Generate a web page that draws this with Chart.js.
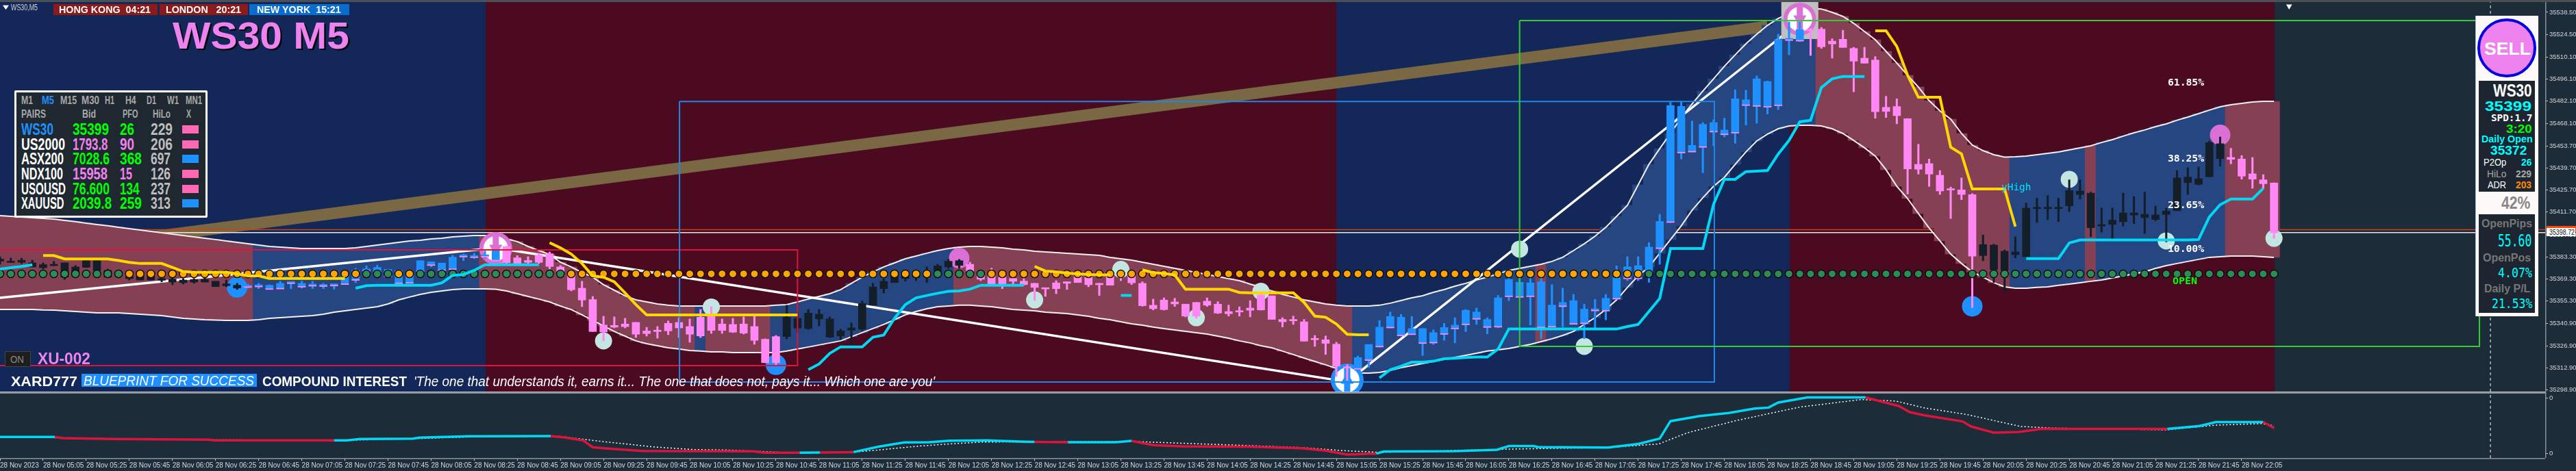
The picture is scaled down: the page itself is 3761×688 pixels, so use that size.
<!DOCTYPE html>
<html>
<head>
<meta charset="utf-8">
<title>WS30 M5</title>
<script src="https://cdn.jsdelivr.net/npm/chart.js@4/dist/chart.umd.min.js"></script>
<style>
html, body { margin: 0; padding: 0; background: #1c2c39; overflow: hidden; }
#wrap { position: relative; width: 3761px; height: 688px; overflow: hidden; }
#chart { position: absolute; left: 0; top: 0; }
.t { position: absolute; white-space: pre; transform-origin: left center; }
.box { position: absolute; box-sizing: border-box; }
</style>
</head>
<body>
<div id="wrap"><canvas id="chart" width="3761" height="688"></canvas></div>
<script>
// prices below are all written as price minus 35000
const BASE = 35000;

const bodyHi = [
381.9,380.2,381.2,379.5,378.4,378.3,379.5,376.9,380.9,380.9,
374.7,373.8,373.8,373.8,373.4,369.5,369.2,368.6,369,369,
367.8,366.2,365.3,364.9,365.2,365.3,366.5,367.5,366.5,365.7,
365.6,366.2,370.8,374.7,375.7,376.6,375.4,374.7,372.1,380.9,
380.2,379.4,383.1,384.6,384.1,384.6,387.3,389.9,382.7,381,
384.4,385.3,376.9,371.8,363.4,356.2,340,339.8,340.7,341.7,
336.3,336.8,341.1,341.7,339.1,345,345.7,340.7,340.4,340.7,
339.1,331,332.7,345,344.3,347.6,346.9,343.9,336.3,338.2,
353.7,364.2,367.8,371.7,372.5,372.2,373,377.6,380.5,380.9,
378.6,372.1,371.2,370.4,369.6,367.9,366.5,363.4,366.8,367.5,
371.2,370.4,366.5,371.1,373.4,371.8,366.5,352.6,355.9,354.7,
353.3,354.4,355.2,353.3,348.6,348.9,350.8,359.1,358.6,343.6,
343,342.1,331.3,330.7,327.9,313.3,319.4,327.7,338.7,345.5,
345,337.8,337.8,335.2,338.5,340,349.4,348.3,343.6,357.3,
368.9,367.2,366.8,367.5,352.7,354.4,355.5,350.1,350.1,357,
370,377,377.7,389.5,405.8,479.4,478.8,454.1,467.4,468.5,
463.8,483.6,483,496.3,494.6,521.2,521.5,527.5,527.5,527.8,
520.2,521.4,515.6,509.4,508.2,478.2,478.7,471,442,442.5,
435.1,426.1,425.8,422.8,391.1,390.8,386.9,386.4,414.2,414.5,
414.2,414.2,425.4,425,423.7,403.5,406.6,411.2,411.2,410.3,
409.9,412.4,433.4,433.9,432.9,455.8,455.1,446.4,445.4,436,432.2,430.2];

const bodyLo = [
380.6,379.7,379.9,376.9,376.4,377.7,370.4,371.2,376.6,374.7,
370.4,371.2,369.5,368.6,368.6,368.4,367.3,366.9,367.3,367.3,
364.4,365,363.5,364.4,364.7,363.1,363.4,366.8,364.6,365.2,
365,365.3,366.2,368.9,374.7,374,371.2,366.8,367,374.4,
378.3,375.1,375.7,383.7,383.3,383.7,381.2,379.5,379,379.8,
379.8,377.2,374,362.4,355.9,335.9,335.6,338.7,339,334.2,
334.6,335.9,336.3,338.2,334.2,333.1,336.6,336.6,335.5,334.9,
330.3,316.1,316.1,332.7,338.1,337.8,343.9,332.3,333.1,336.8,
337.4,352.7,363.1,367,369.6,370.4,370.8,374,376.9,377.9,
374.3,369.1,366,366,367.8,365.7,363.9,362.9,363.1,366.5,
367,365.6,365.6,365.3,370.8,366.8,352.3,350.4,349.8,353.4,
345.7,345.7,352.6,347.6,347.2,348.3,349.4,349.6,343.6,342.1,
342.7,329.8,330.7,328.4,313.9,312.7,312.5,318,326.6,338.7,
333.7,334.4,328.8,329.1,334.6,338.1,340.7,344.2,339,339.2,
358.5,358.1,358.5,338.8,339.2,352.2,341,341.4,349.5,349.4,
357,369.9,369.9,373.8,389,405.6,449.7,450.3,453.3,463,
461.3,462.3,479.8,479.3,478.8,479.7,521.1,520.7,526.8,516.6,
518.4,516.2,507.5,506.2,475.4,475.6,472.9,439.1,438.9,435.8,
425.1,425.7,422.9,383.7,384.1,375.1,374.7,384.7,383.4,413.9,
413.9,413.9,415.7,422.9,401.8,402.9,403.9,405.6,409.8,408.2,
407,410.2,412.6,430.4,429.3,434.1,445.6,445.2,434.5,432.6,429.7,398.6];

const highs = [
383.4,382.5,382.5,381.2,379.5,380.4,379.5,377.8,380.9,380.9,
375.5,373.8,373.8,373.8,373.4,370.4,369.9,369.6,369.6,370.4,
367.8,368.6,366.5,366,366.5,365.6,367.8,367.5,367.9,367.8,
366.5,366.2,370.8,376,377.6,378,375.4,375.1,373,380.9,
380.2,379.4,384.3,385.1,385.6,387,387.3,390,384.1,383.4,
385.6,386.4,377.8,373.4,367.8,358.2,345.6,345.2,344.3,341.7,
338.6,339.1,342.6,344.7,343.9,349.9,351.7,343.9,344.3,345.2,
345.6,331.3,333.4,352.6,347.8,349.9,349.9,345.2,337.4,341.4,
355.2,366.5,369.5,372.5,373.4,373.8,376.9,378.6,381.7,381.7,
379.9,372.5,376.1,373.4,373.4,369.6,366.5,363.4,368.2,367.5,
371.2,370.8,366.5,371.1,373.4,372.5,367.5,356.5,357.3,357,
353.3,354.4,357.3,354.9,352.7,351.6,355.5,359.9,358.6,344.7,
345.7,343.6,333.4,333.1,329.1,314.8,320.4,327.7,342.9,348.3,
346.8,345.5,337.8,337,341.1,344.7,349.9,350.8,344.7,358.8,
369.6,369.9,369.6,370.4,365.7,363.4,359.5,353.3,356.3,359.5,
377.6,383.4,383.4,392.3,410.3,481.6,481.6,469.5,468.5,470.3,
471.3,489.4,489.1,498.1,494.9,524.6,532.4,532.4,528.2,528.9,
521.7,527.1,516.3,516.3,510.4,485.2,483.6,471.1,454.8,445.4,
438.1,427.6,433.4,423.4,397.2,391.3,387.7,396,417.4,420.6,
422.1,420.6,432.2,432.2,424.4,414.2,414.2,423.7,421.5,424.4,
415.5,414.2,438.1,439.9,440.3,456.8,459.4,452.2,447.6,446.4,435.5,430.3];

const lows = [
378.6,379.7,379.1,376.9,375.6,377.7,369,371.2,376.6,374.7,
370.4,371.2,368.6,368.6,368.6,367.4,365.6,366,366.5,367.3,
364.4,364.3,362.6,363.4,363.1,363,363.1,363.1,363.4,363.1,
363.1,362.7,366.2,366.9,374.7,374,371.2,366.8,367,374.4,
376.9,375.1,375.7,380.9,382.2,382.2,381.2,379,379,379.1,
379.1,375.6,374,361.7,351.7,335.9,330,338.2,338.2,332.1,
333,331.7,333.9,332.1,329.1,332.1,334.7,334.7,335.2,334.3,
327.8,316.1,314.8,331.3,335.6,337.3,339.5,332.1,330.8,326.9,
336.5,352.6,360.4,367,367.9,368.2,367,373.4,376,376,
373.4,368.2,365.3,363.1,366,365.3,355.6,358.2,359.9,362.6,
367,364.3,358.8,365.3,368.2,365.7,352,349.6,349.5,351.8,
345.2,344.3,351.8,347.3,345.7,345.7,345.2,349.5,343.6,338.8,
340.4,329.8,326.5,321.4,307.4,304.8,311.7,313.2,326,338.2,
333.4,334.3,320.7,327.7,330.3,328.7,335.9,340.4,334.4,338.3,
355.5,357.3,340,331.3,338.8,338.9,340.7,331.3,337.5,343.3,
356.2,368.2,368.2,367.1,378.6,405.1,445.4,449.9,436.7,453.8,
459.4,455.4,466.9,468.1,473.9,476.8,511.5,519.9,511.1,515.6,
509.4,516.2,488,506.2,471.3,471.7,467.7,423.2,435.8,428,
422.9,407.6,419.6,351.1,380.8,366.9,360.4,382.7,383.4,405.1,
407,405.6,412.1,420,396.1,399,394.3,402.9,404.4,398.2,
406.3,392.8,412.5,422.9,429,434.1,440.9,442.3,432.6,426.8,426.8,395];

// d dark, b blue, p pink
const candleTones = 'd'.repeat(23) + 'b'.repeat(24) + 'p'.repeat(26) + 'd'.repeat(17) + 'p'.repeat(36)
    + 'b'.repeat(42) + 'p'.repeat(16) + 'd'.repeat(23) + 'p'.repeat(5);

const bandUpper = [
409.5,409,408.6,408.2,407.7,407.3,406.4,405.6,404.7,403.8,
403,402.1,401.2,400.3,399.5,398.6,397.7,396.9,396,395.1,
394.3,393.4,392.5,391.6,390.8,389.9,389.5,389,388.6,388.6,
388.6,388.6,388.6,389,389.9,390.8,391.6,392.5,393.4,393.8,
394.7,395.1,396,396.4,396.9,396.9,396,394.7,393,389.9,
387.3,384.8,379.9,376.9,373.4,370.4,365.6,362.1,358.6,356,
354.7,353.4,352.6,352.1,352.1,352.1,352.1,352.1,352.1,352.1,
352.1,352.1,352.6,353,354.7,356.5,358.2,359.9,362.5,366.5,
370.4,373.8,376.9,379.5,382.1,383.8,385.6,387.3,388.6,389.5,
389.9,389.9,389.5,389,388.2,387.7,386.9,386.4,386,385.6,
385.1,384.7,384.3,383,382.1,381.2,379.9,378.6,377.3,376,
374.7,373.4,372.1,370.8,369.5,368.2,366,363.9,361.7,359.5,
357.8,356,354.7,353.4,352.6,352.1,352.1,352.1,352.6,353.9,
355.6,357.3,358.6,360.8,362.5,364.7,366.5,368.6,370.4,372.5,
374.7,376,377.3,378.6,380.4,383,387.3,391.6,396.4,402.1,
409,416,429,442,452,461.6,471.6,480.3,488.5,496.3,
504.2,511.5,518.5,524.6,530.2,534.6,537.6,539.8,541.1,540.6,
538.5,535.9,531.5,526.3,521.1,513.7,506.3,498.5,491.1,482.4,
475.9,470.7,461.6,454.2,450.7,448.1,446.6,446.8,447.3,448.1,
449,449.9,451.2,452.5,453.8,455.9,457.7,459.9,462,463.8,
465.9,467.7,470,472,474.2,476.4,478.5,479.8,480.7,481.6,482,482];

const bandLower = [
349.9,349.9,349.9,349.9,349.6,349.5,349.1,348.6,348.2,347.8,
347.8,347.8,347.3,346.9,346.5,346,345.2,344.3,343.9,343.4,
343.2,343,343,343,343.4,344.3,344.7,345.2,345.6,346,
346.9,348.2,349.1,349.9,350.8,351.7,353.4,356,357.8,359.5,
360.8,361.7,362.5,363,363,363,362.7,361.7,359.9,358.2,
356.5,354.7,352.1,349.9,346.5,343,339.5,336,333,330,
328.2,326.9,325.6,324.8,323.9,323.5,323,323,322.6,322.6,
322.6,322.6,322.6,323.5,324.8,326.1,327.4,328.7,330,332.6,
335.2,337.8,340.4,343.4,346.5,348.6,350.4,351.7,352.1,352.6,
352.6,352.1,351.7,350.8,349.9,349.5,349.1,348.2,347.8,347.3,
346.5,345.6,344.3,343.4,342.1,340.8,339.9,338.7,337.8,336.9,
336,335.2,334.3,333,331.7,330,328.7,326.9,325.6,323.5,
321.3,319.1,316.9,314.8,312.6,310.9,309.5,309.5,310,311.3,
313,314.3,315.6,316.9,318.2,319.5,320.8,322.1,323.5,324.3,
325.2,326.5,327.8,329.5,331.3,333.4,336,340.4,344.7,349.9,
356,363.9,371.2,376.9,385.6,394.3,403,412.9,420.8,428.1,
433.8,442,449.9,456.8,461.2,464.6,466.4,466.8,466.8,466.4,
464.6,461.6,457.2,452.5,447.3,438.6,428.1,420.3,410.8,401.6,
393.4,385.1,379.1,373.8,370.4,366.9,364.3,363.4,363.4,363.9,
364.3,365.2,366,366.9,367.8,368.6,369.9,371.2,372.5,373.8,
376,377.7,379.1,380.4,381.7,383,383.4,383.8,383.8,383.8,383.4,383];

const bandTones = 'p'.repeat(24) + 'b'.repeat(21) + 'p'.repeat(20) + 'b' + 'p'.repeat(6) + 'b'.repeat(17)
    + 'p'.repeat(37) + 'b'.repeat(17) + 'p' + 'b'.repeat(25) + 'p'.repeat(18) + 'b'.repeat(7) + 'p'
    + 'b'.repeat(12) + 'p'.repeat(5);

// daily open dots along the bottom of the candles
const dailyOpen = 372.5;
const dotTones = 'g'.repeat(12) + 'o'.repeat(22) + 'g'.repeat(3) + 'o'.repeat(2) + 'g'.repeat(14)
    + 'o'.repeat(34) + 'g'.repeat(5) + 'o'.repeat(61) + 'g'.repeat(59);

// stop lines: [first bar, values]
const goldSegments = [
    [4, [384.1,384.1,382,382,382,382,382,381,379.8,379.1,379.1,379.1,376.6,374,373.5,373.5,373.5,373.5,372.5,371.2,371.2,369.6,369.6,369.6,369.6,369.6,369.6,369.6,369.6]],
    [51, [392.3,389,385.1,379.1,371.2,370.4,367.5,360.4,353,346.5,346.5,346.5,346.5,346.5,346.5,346.5,346.5,346.5,346.5,346.5,346.5,346.5,346.5,346.5]],
    [96, [377.3,374.3,373.8,373,372.5,372.1,371.9,371.9]],
    [106, [375,373.3,372.8,371.8,362.8,362.8,362.8,362.8,362.8,360.7,360.5,360.5,360.5,360.5,360.5,354.4,345.7,345,340.7,334.2,333.9,333.9]],
    [174, [526.8,526.8,516.8,498.5,484.6,484.6,484.6,452.9,448.6,426.4,426.4,426.4,426.4,402.5]]
];
const cyanSegments = [
    [0, [375.6,376.4,377.2,378.3]],
    [33, [363.4,365,365.3,365.3,365.3,365.3,365.3,365.3,366.8,371.5,372.1,374.7,378.3,378.3,378.3,378.3,378.3,378.3]],
    [75, [311.7,315.3,322.1,326.2,326.2,326.2,332.3,333.7,344.3,353,357.3,358.8,360.2,361.4,361.7,362.8,365.3,365.3,365.3,365.3,365.3]],
    [104, [358.8,358.8]],
    [128, [306.5,311.7,313.9,316.5,316.5,317.1,318.7,319,319.4,319.7,319.7,324.8,337.5,337.5,337.5,337.5,337.5,337.5,337.5,337.5,337.5,337.5,337.5,339.1,340.4,348.6,356.9,388.6,388.6,388.6,388.6,416.8,432.5,432.5,437.4,437.7,438.1,448.6,457.2,469,470,490.7,496.3,497.8,497.8,497.8]],
    [188, [382.2,382.2,382.2,382.2,392.1,394,394,394,394,394,394,394,394,394,394,394,394.3,408.6,416.4,420,420,420,426.8]]
];

const zigzagBars = [0, 46, 125, 167];
const zigzagPrices = [357.3, 389, 304, 532.4];
const goldTrendBars = [0, 164];
const goldTrendPrices = [383.4, 529.5];

const lastPrice = 398.72;
const askPrice = 400.5;

// boxes: [left bar, right bar, top price, bottom price]
const redBox = [-3, 74, 387.7, 314.3];
const blueBox = [63.05, 159.07, 481.9, 303.9];
const greenBox = [141, 230.06, 533.3, 326.5];

const lightBars = [56, 66, 96, 104, 111, 117, 141, 147, 192, 201, 211];
const lightPrices = [330, 351.5, 356, 375.3, 344.7, 361.4, 388.2, 326.5, 432.5, 393.4, 395.1];
const blueDotBars = [22, 72, 183];
const blueDotPrices = [363.9, 314.8, 351.9];
const orchidBars = [89, 206];
const orchidPrices = [382.5, 460.7];
const sellBars = [46, 167];
const sellPrices = [388.6, 534.1];
const buyBars = [125];
const buyPrices = [305.2];

// session colours: bar where each one ends
const sessionEdges = [-1, 45.06, 124.02, 166.06, 211.06];
const sessionColors = ['#132858', '#4b0a20', '#132858', '#4b0a20'];

// lower indicator, read at its turning points
const oscBars = [0,5.1,5.8,10.6,19.4,19.8,31,32.2,33.4,38.3,38.9,43.5,51.1,52.3,54.1,55,56.2,59.6,69.9,70.9,74.2,76.1,79.2,81.5,83.9,86.2,88.1,91.6,94.6,96,99.1,103.5,105,107,109.7,115.9,120.8,123,125,127.7,128.4,135,138.9,140,142.3,142.7,149.2,152,154,155,157.7,160.4,162.8,164.1,165,167.7,173.1,176.2,177.2,178.6,182.1,182.9,185,187.3,189.4,193.8,201.1,204.1,205.6,210,211];
const oscValues = [30.7,30.7,29,27.7,26.7,25.7,25.7,25.7,27.7,28.3,29.7,31.7,32,30.3,25.7,15.7,14,10.3,9.7,7.8,7.8,8,8.6,16.5,22.7,23,25.3,25.7,24,23.5,23,23,25,18.7,17,16.5,14.3,10.8,5.1,6.4,9.5,10,12.1,17.4,17.4,16.1,15.2,20.5,28.4,53.8,61.3,65.7,72.2,73.6,81,88.5,88.5,75.8,67,62.2,53.4,46,37.1,38,42.4,42.4,42.4,46.8,52.5,52.5,43.7];
const oscRedRanges = [[5,31],[51,74],[76,79],[96,99],[105,128],[173,192],[193,201],[210,212]];
const signalBars = [0,14,31,38,44,51.7,55.9,60.8,64.4,67.5,72.4,79,81.5,85.2,88.2,91.2,105.4,114.3,120.8,124.6,128,140,149.2,153.9,156.6,161.2,167,172.7,175.9,178.6,182.5,187.5,190.6,201,205.6,209.9,211];
const signalValues = [31,27.2,25.5,28,31,32,24,16,12.3,11.7,8.3,8.3,11.7,17.3,20.7,23.3,24,19,15.2,10.8,8.2,13,15.2,20.5,37,55,74.4,85.4,83.2,73,63.5,46,43.7,41,48,50.3,47];

const cursorBar = 231.08;
const lastTickBar = 212.4;

const priceTicks = [35538.5,35524.5,35510.1,35496.1,35482.1,35468.1,35453.7,35439.7,35425.7,35411.7,35397.3,35383.3,35369.3,35355.3,35340.9,35326.9,35312.9,35298.9];
const oscTicks = [88, 6.4];
const timeLabels = ['28 Nov 2023','28 Nov 05:05','28 Nov 05:25','28 Nov 05:45','28 Nov 06:05','28 Nov 06:25','28 Nov 06:45','28 Nov 07:05','28 Nov 07:25','28 Nov 07:45','28 Nov 08:05','28 Nov 08:25','28 Nov 08:45','28 Nov 09:05','28 Nov 09:25','28 Nov 09:45','28 Nov 10:05','28 Nov 10:25','28 Nov 10:45','28 Nov 11:05','28 Nov 11:25','28 Nov 11:45','28 Nov 12:05','28 Nov 12:25','28 Nov 12:45','28 Nov 13:05','28 Nov 13:25','28 Nov 13:45','28 Nov 14:05','28 Nov 14:25','28 Nov 14:45','28 Nov 15:05','28 Nov 15:25','28 Nov 15:45','28 Nov 16:05','28 Nov 16:25','28 Nov 16:45','28 Nov 17:05','28 Nov 17:25','28 Nov 17:45','28 Nov 18:05','28 Nov 18:25','28 Nov 18:45','28 Nov 19:05','28 Nov 19:25','28 Nov 19:45','28 Nov 20:05','28 Nov 20:25','28 Nov 20:45','28 Nov 21:05','28 Nov 21:25','28 Nov 21:45','28 Nov 22:05'];

const sessionTabs = ['HONG KONG  04:21', 'LONDON   20:21', 'NEW YORK  15:21'];
const timeframes = ['M1','M5','M15','M30','H1','H4','D1','W1','MN1'];
const pairNames = ['WS30','US2000','ASX200','NDX100','USOUSD','XAUUSD'];
const pairBids = ['35399','1793.8','7028.6','15958','76.600','2039.8'];
const pairPfo = ['26','90','368','15','134','259'];
const pairHiLo = ['229','206','697','126','237','313'];
const pairUp = [false, false, true, false, false, true];

const COLORS = { d: '#141e28', b: '#1e90ff', p: '#ff88f4' };
const BAND = { p: '#864054', b: '#254680' };
const DOT = { g: '#2e8b57', o: '#ffa500' };

function series(bars, prices) {
    return bars.map((b, i) => ({ x: b, y: BASE + prices[i] }));
}
function byBar(values) {
    return values.map((v, i) => ({ x: i, y: BASE + v }));
}
function floating(lo, hi) {
    return lo.map((v, i) => ({ x: i, y: [BASE + v, BASE + hi[i]] }));
}
function fromSegments(segs) {
    const pts = [];
    segs.forEach(([start, vals]) => {
        vals.forEach((v, i) => pts.push({ x: start + i, y: BASE + v }));
        pts.push({ x: start + vals.length, y: null });
    });
    return pts;
}
function boxPath(b) {
    const [l, r, t, bt] = b;
    return series([l, r, r, l, l], [t, t, bt, bt, t]);
}
function isRed(x) {
    return oscRedRanges.some(r => x >= r[0] && x < r[1]);
}
// the scales must not reserve room for labels that hang past the plot
function noPadding(s) {
    s.paddingLeft = 0; s.paddingRight = 0; s.paddingTop = 0; s.paddingBottom = 0;
}

// draws the session backgrounds behind everything
const sessionPlugin = {
    id: 'sessions',
    beforeDatasetsDraw(chart) {
        const { ctx, scales } = chart;
        const yp = scales.yPrice;
        ctx.save();
        sessionColors.forEach((c, i) => {
            const x0 = scales.x.getPixelForValue(sessionEdges[i]);
            const x1 = scales.x.getPixelForValue(sessionEdges[i + 1]);
            ctx.fillStyle = c;
            ctx.fillRect(x0, yp.top, x1 - x0, yp.bottom - yp.top);
        });
        ctx.restore();
    },
    afterDraw(chart) {
        const { ctx, chartArea, scales } = chart;
        const y = scales.yPrice.bottom;
        ctx.save();
        ctx.fillStyle = '#c8ccd0';
        ctx.fillRect(0, y, chartArea.right, 1.5);
        ctx.fillStyle = '#8a9096';
        ctx.fillRect(0, y + 1.5, chartArea.right, 1.5);
        ctx.fillStyle = '#e8e8e8';
        ctx.fillRect(0, chartArea.top - 1, chartArea.right, 1);
        ctx.fillStyle = '#8a9096';
        ctx.fillRect(0, chartArea.bottom, chartArea.right, 1.5);
        ctx.fillRect(chartArea.right, 0, 1.5, chartArea.bottom);
        ctx.restore();
    }
};

function lineSet(data, color, width, order, extra) {
    return Object.assign({
        type: 'line', data, borderColor: color, borderWidth: width, pointRadius: 0,
        tension: 0, fill: false, yAxisID: 'yPrice', order, spanGaps: false
    }, extra || {});
}
function barSet(data, colors, thickness, order, extra) {
    return Object.assign({
        type: 'bar', data, backgroundColor: colors, barThickness: thickness,
        grouped: false, yAxisID: 'yPrice', order, borderWidth: 0
    }, extra || {});
}
function pointSet(data, color, radius, order, extra) {
    return Object.assign({
        type: 'scatter', data, backgroundColor: color, borderColor: color, borderWidth: 0,
        pointRadius: radius, showLine: false, yAxisID: 'yPrice', order
    }, extra || {});
}

const candleColors = [...candleTones].map(t => COLORS[t]);
const blueOpens = bodyLo.map((v, i) => candleTones[i] === 'b' ? { x: i, y: [BASE + v - 0.5, BASE + v] } : { x: i, y: null });

const datasets = [
    lineSet(series(goldTrendBars, goldTrendPrices), '#7a6845', 17, 100),
    lineSet(series([-1, 240], [askPrice, askPrice]), '#c8431a', 1.5, 99),
    lineSet(series([-1, 240], [lastPrice, lastPrice]), '#e8e8e8', 1.5, 98),
    barSet(floating(bandLower, bandUpper), [...bandTones].map(t => BAND[t]), 16.4, 90),
    lineSet(byBar(bandUpper), '#f4f0f0', 2, 85),
    lineSet(byBar(bandLower), '#f4f0f0', 2, 84),
    lineSet(series(zigzagBars, zigzagPrices), '#ffffff', 3.5, 80),
    pointSet(series([167], [533.3]), '#c0c0c0', 38.2, 70, { pointStyle: 'rect' }),
    pointSet(series(sellBars, sellPrices), '#ffffff', 21, 60, { borderColor: '#da70d6', borderWidth: 6 }),
    pointSet(series(buyBars, buyPrices), '#ffffff', 21, 60, { borderColor: '#1e90ff', borderWidth: 6 }),
    pointSet(series(sellBars, sellPrices), '#da70d6', 21, 59, { pointStyle: 'line', pointRotation: 90, borderColor: '#da70d6', borderWidth: 9 }),
    pointSet(series(buyBars, buyPrices), '#1e90ff', 21, 59, { pointStyle: 'line', pointRotation: 90, borderColor: '#1e90ff', borderWidth: 9 }),
    pointSet(series(sellBars, sellPrices), '#da70d6', 11, 58, { pointStyle: 'triangle', pointRotation: 180 }),
    pointSet(series(buyBars, buyPrices), '#1e90ff', 11, 58, { pointStyle: 'triangle' }),
    pointSet(series(lightBars, lightPrices), '#c3e6e3', 12.5, 55),
    pointSet(series(blueDotBars, blueDotPrices), '#1e90ff', 15, 55),
    pointSet(series(orchidBars, orchidPrices), '#da70d6', 15, 55),
    barSet(floating(lows, highs), candleColors, 2.4, 50),
    barSet(floating(bodyLo, bodyHi), candleColors, 11, 49, { minBarLength: 2 }),
    barSet(blueOpens, '#ff88f4', 11, 48),
    lineSet(boxPath(redBox), '#dc143c', 2, 40),
    lineSet(boxPath(blueBox), '#1e88e5', 2, 39),
    lineSet(boxPath(greenBox), '#32cd32', 2, 38),
    pointSet(dotTones.split('').map((t, i) => ({ x: i, y: BASE + dailyOpen })), [...dotTones].map(t => DOT[t]), 5.6, 30,
        { borderColor: '#0a0a0a', borderWidth: 1.4 }),
    lineSet(fromSegments(goldSegments), '#ffd700', 4, 20),
    lineSet(fromSegments(cyanSegments), '#00d8f5', 4, 19),
    pointSet(series([lastTickBar], [542.4]), '#ffffff', 5, 10, { pointStyle: 'triangle', pointRotation: 180 }),
    lineSet(series([cursorBar, cursorBar], [297.8, 545]), '#ffffff', 1, 9, { borderDash: [4, 4] }),
    // lower panel
    lineSet(signalBars.map((b, i) => ({ x: b, y: signalValues[i] })), '#ffffff', 1.5, 8, { yAxisID: 'yOsc', borderDash: [2, 3] }),
    lineSet(oscBars.map((b, i) => ({ x: b, y: oscValues[i] })), '#00d8f5', 3.5, 7, {
        yAxisID: 'yOsc',
        segment: { borderColor: ctx => isRed((ctx.p0.parsed.x + ctx.p1.parsed.x) / 2) ? '#dc143c' : '#00d8f5' }
    }),
    lineSet([{ x: cursorBar, y: 0 }, { x: cursorBar, y: 97 }], '#ffffff', 1, 6, { yAxisID: 'yOsc', borderDash: [4, 4] })
];

const timeFont = { family: '"Liberation Sans", sans-serif', size: 10 };
const priceFont = { family: '"Liberation Sans", sans-serif', size: 9.5 };

new Chart(document.getElementById('chart'), {
    type: 'bar',
    data: { datasets },
    plugins: [sessionPlugin],
    options: {
        responsive: false,
        animation: false,
        devicePixelRatio: 1,
        // big markers would otherwise push the plot in from the edges
        layout: { autoPadding: false, padding: { top: 3, left: 0, right: 0, bottom: 0 } },
        plugins: { legend: { display: false }, tooltip: { enabled: false }, title: { display: false } },
        scales: {
            x: {
                type: 'linear', offset: false, min: 0, max: 236.16, position: 'bottom',
                grid: { drawOnChartArea: false, drawTicks: true, tickLength: 4, color: '#c8ccd0', offset: false },
                border: { display: false },
                afterBuildTicks: s => { s.ticks = timeLabels.map((t, i) => ({ value: i * 4 })); },
                afterFit: s => { s.height = 19; noPadding(s); },
                ticks: {
                    autoSkip: false, maxRotation: 0, minRotation: 0, align: 'start', padding: 1,
                    color: '#d4d8dc', font: timeFont,
                    callback: v => timeLabels[v / 4]
                }
            },
            yPrice: {
                type: 'linear', position: 'right', stack: 'panes', stackWeight: 569,
                min: 35297.8, max: 35545,
                grid: { drawOnChartArea: false, drawTicks: true, tickLength: 4, color: '#c8ccd0' },
                border: { display: false },
                afterBuildTicks: s => { s.ticks = priceTicks.map(v => ({ value: v })); },
                afterFit: s => { s.width = 45; noPadding(s); },
                ticks: { color: '#d4d8dc', font: priceFont, padding: 2, autoSkip: false, callback: v => v.toFixed(2) }
            },
            yOsc: {
                type: 'linear', position: 'right', stack: 'panes', stackWeight: 97,
                min: 0, max: 97,
                grid: { drawOnChartArea: false, drawTicks: true, tickLength: 4, color: '#c8ccd0' },
                border: { display: false },
                afterBuildTicks: s => { s.ticks = oscTicks.map(v => ({ value: v })); },
                afterFit: s => { s.width = 45; noPadding(s); },
                ticks: { color: '#d4d8dc', font: priceFont, padding: 2, autoSkip: false, callback: () => '0' }
            }
        }
    }
});

// ---- text and panels on top of the canvas ----
const wrap = document.getElementById('wrap');
const ruler = document.createElement('canvas').getContext('2d');
const SANS = '"Liberation Sans", Arial, sans-serif';
const MONO = '"DejaVu Sans Mono", monospace';

// x left edge, cy vertical centre, w width the text is squeezed to
function put(text, x, cy, w, size, color, opt) {
    opt = opt || {};
    const el = document.createElement('span');
    const font = `${opt.italic ? 'italic ' : ''}${opt.weight || 'bold'} ${size}px ${opt.family || SANS}`;
    ruler.font = font;
    const tw = ruler.measureText(text).width;
    el.className = 't';
    el.textContent = text;
    el.style.font = font;
    el.style.lineHeight = size + 'px';
    el.style.left = x + 'px';
    el.style.top = (cy - size / 2) + 'px';
    el.style.color = color;
    if (w) el.style.transform = `scaleX(${w / tw})`;
    if (opt.shadow) el.style.textShadow = opt.shadow;
    wrap.appendChild(el);
}
function rect(x, y, w, h, bg, extra) {
    const el = document.createElement('div');
    el.className = 'box';
    el.style.cssText = `left:${x}px;top:${y}px;width:${w}px;height:${h}px;background:${bg};${extra || ''}`;
    wrap.appendChild(el);
    return el;
}

// top left
rect(0, 0, 3761, 2.5, '#4a5056');
put('\u25BC', 4, 11, 9, 8, '#ffffff', { family: '"DejaVu Sans", sans-serif' });
put('WS30,M5', 16, 11, 39, 12, '#d0d0d0', { weight: 'normal' });
rect(78, 6, 152, 15.7, '#8b1a1a');
rect(232.5, 6, 129.5, 15.7, '#8b1a1a');
rect(364, 6, 146, 15.7, '#0a6ccc');
put(sessionTabs[0], 86, 14, 134, 14, '#ffffff');
put(sessionTabs[1], 242, 14, 110, 14, '#ffffff');
put(sessionTabs[2], 375, 14, 123, 14, '#ffffff');
put('WS30 M5', 252, 52, 258, 55, '#ee82ee', { shadow: '2px 2px 0 #000' });

// pairs table
rect(21.4, 132, 282, 186, '#1f2830', 'border:3px solid #ffffff;border-radius:2px;');
const tfLeft = [31, 61.4, 87.9, 118.6, 152.9, 183.2, 213.6, 244, 270.7];
const tfWidth = [17, 18, 24, 26, 14, 15.7, 14, 17, 24];
timeframes.forEach((t, i) => put(t, tfLeft[i], 146.7, tfWidth[i], 16, t === 'M5' ? '#1e90ff' : '#a8a8a8'));
put('PAIRS', 31, 166.7, 36, 16, '#a8a8a8');
put('Bid', 120.4, 166.7, 20, 16, '#a8a8a8');
put('PFO', 179, 166.7, 22.5, 16, '#a8a8a8');
put('HiLo', 222.5, 166.7, 26, 16, '#a8a8a8');
put('X', 272, 166.7, 7, 16, '#a8a8a8');
const rowY = [189.3, 210.7, 232.3, 254, 275.7, 297.3];
const nameW = [47, 64, 62, 61, 65, 62.5];
const bidW = [53, 51.4, 54, 51, 54, 57];
const pfoW = [21, 21, 32, 18, 28.6, 32];
const hiloW = [32, 32, 29, 29, 29, 29];
pairNames.forEach((n, i) => {
    const c = pairUp[i] || i === 0 || i === 4 ? '#00ff00' : '#ee82ee';
    put(n, 31, rowY[i], nameW[i], 24, i === 0 ? '#1e90ff' : '#ffffff');
    put(pairBids[i], 106.4, rowY[i], bidW[i], 24, c);
    put(pairPfo[i], 175, rowY[i], pfoW[i], 24, c);
    put(pairHiLo[i], 220, rowY[i], hiloW[i], 24, '#bdbdbd');
    rect(266, rowY[i] - 6, 24, 12, pairUp[i] ? '#1e90ff' : '#ff69b4');
});

// bottom left of the price pane
rect(7, 513, 38, 23, '#1e1e1e', 'border:1px solid #444;');
put('ON', 15, 524.5, 20, 15, '#8a8a8a', { weight: 'normal' });
put('XU-002', 54.5, 524, 77, 23, '#ee82ee');
put('XARD777', 16, 556.5, 97, 21, '#ffffff');
rect(119, 546, 255.5, 19, '#1e90ff');
put('BLUEPRINT FOR SUCCESS', 122, 556, 249, 20, '#ffffff', { italic: true, weight: 'normal' });
put('COMPOUND INTEREST', 383, 557, 211, 20, '#ffffff');
put("'The one that understands it, earns it... The one that does not, pays it... Which one are you'", 604, 556.5, 761, 20, '#ffffff', { italic: true, weight: 'normal' });

// levels on the right of the candles
[['61.85%', 120], ['38.25%', 231], ['23.65%', 299], ['10.00%', 363]].forEach(f => put(f[0], 3164.5, f[1], 53, 14, '#ffffff', { family: MONO }));
put('OPEN', 3172, 410, 36, 14, '#00ff00', { family: MONO });
put('yHigh', 2922, 273, 43.5, 14, '#00e5ff', { family: MONO, weight: 'normal' });

// right hand panel
rect(3614.3, 23, 91.7, 438.7, '#fffafa', 'border-left:1px solid #9cc4ec;');
rect(3617.3, 27.3, 85.4, 85.4, '#ee82ee', 'border:4.5px solid #0000e0;border-radius:50%;');
put('SELL', 3626.7, 71.7, 68, 25, '#ffffff');
rect(3619.3, 118.3, 81.7, 162, '#1c2530');
rect(3619.3, 312.7, 81.7, 144, '#1c2530');
put('WS30', 3640, 132, 56.7, 26, '#ffffff');
put('35399', 3628, 154, 68, 21, '#00ffff');
put('SPD:1.7', 3636.7, 172, 60.3, 14, '#ffffff', { family: MONO });
put('3:20', 3659, 188.5, 37.7, 16, '#00ff00');
put('Daily Open', 3622.7, 202.7, 74.6, 15, '#00ffff');
put('35372', 3636, 219.5, 53.3, 18, '#00ffff');
put('P2Op', 3625.7, 236, 33.3, 15, '#ffffff', { weight: 'normal' });
put('26', 3680.7, 236, 15.3, 15, '#00ffff');
put('HiLo', 3630.7, 253, 28.3, 15, '#a8a8a8', { weight: 'normal' });
put('229', 3673, 253, 23, 15, '#a8a8a8');
put('ADR', 3632, 269.3, 27, 15, '#ffffff', { weight: 'normal' });
put('203', 3673, 269.3, 23, 15, '#ff8c00');
put('42%', 3652, 296, 42.3, 25, '#888888');
put('OpenPips', 3622.7, 327, 74, 16, '#777777');
put('55.60', 3646.7, 351.5, 49.3, 24, '#00ffff', { family: MONO, weight: 'normal' });
put('OpenPos', 3625, 377, 70, 16, '#777777');
put('4.07%', 3647, 398, 50, 20, '#00ffff', { family: MONO, weight: 'normal' });
put('Daily P/L', 3626.7, 421.7, 67.3, 16, '#777777');
put('21.53%', 3637.7, 442.7, 59.3, 20, '#00ffff', { family: MONO, weight: 'normal' });

// current price flags on the axis
rect(3718, 330, 43, 9, '#ff4500');
rect(3718, 333, 42, 12, '#ffffff');
put('35398.72', 3722, 339.2, 37, 11, '#111111', { weight: 'normal' });
</script>
</body>
</html>
